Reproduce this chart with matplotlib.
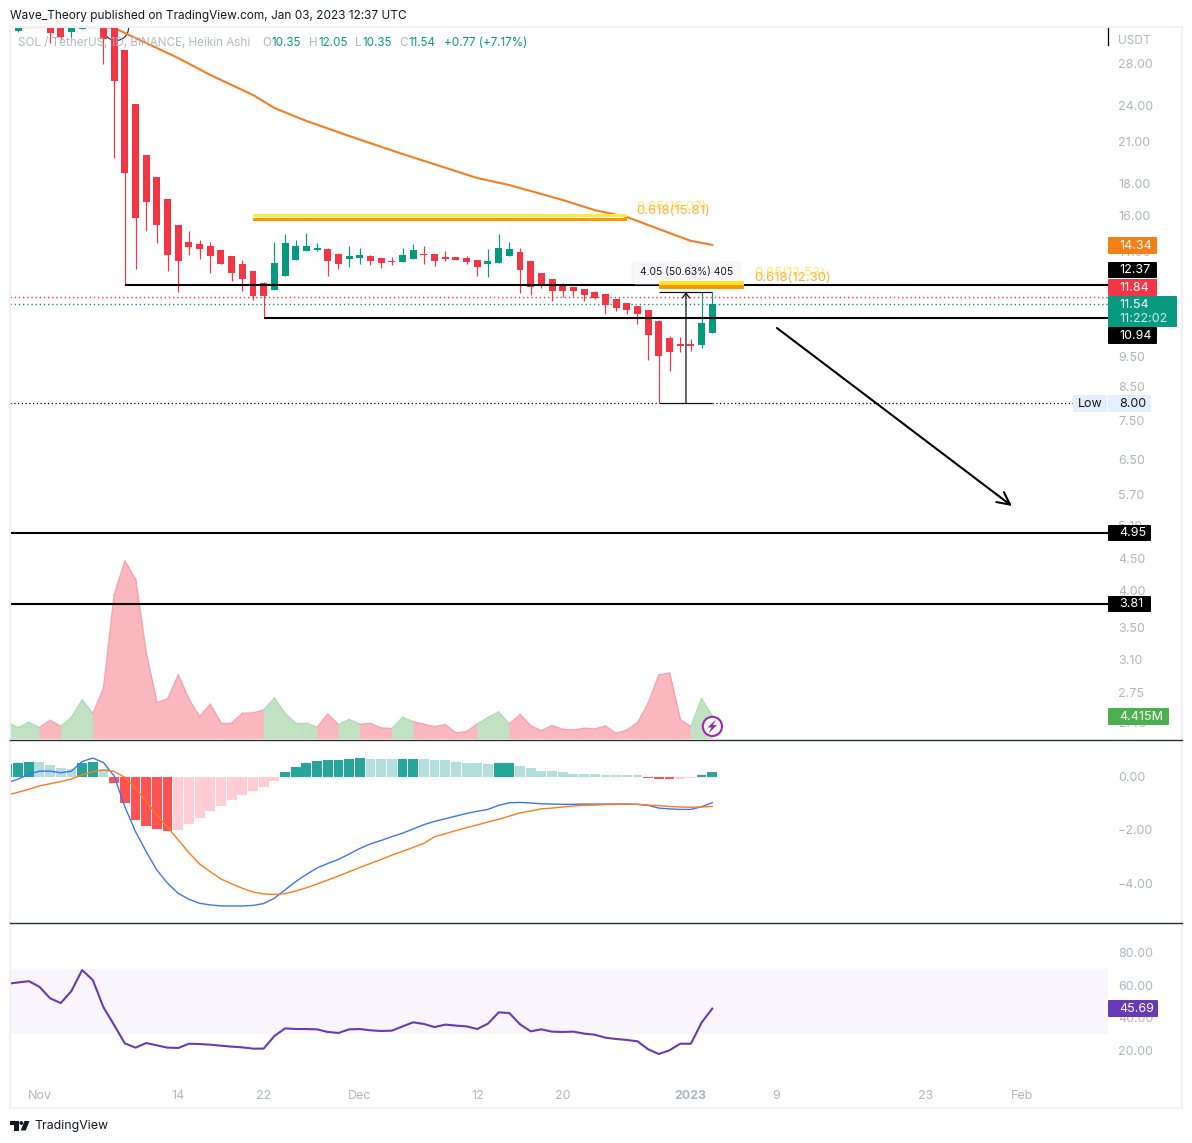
import matplotlib
matplotlib.use("Agg")
import matplotlib.pyplot as plt
from matplotlib.patches import Rectangle, FancyBboxPatch, Circle, Polygon, Arc
from matplotlib.ticker import FixedLocator, FixedFormatter, NullLocator

plt.rcParams['font.family'] = ['Inter', 'DejaVu Sans']

# ---------- data (day 0 = 1 Nov 2022) ----------
days = list(range(-3, 64))
opens = [30.77,31.57,33.5,33.6,33,34,31.45,31.8,33.5,35.5,34,29.43,24.11,19.98,18.42,16.98,15.43,14.49,14.38,14.28,14.07,13.76,13.36,13.02,12.45,
         12.14,12.78,13.56,14.02,14.07,14.12,13.87,13.61,13.66,13.76,13.66,13.51,13.46,13.61,13.87,13.87,13.71,13.71,13.66,13.56,13.36,13.41,13.76,
         13.97,13.51,12.92,12.64,12.41,12.28,12.19,12.06,11.97,11.75,11.58,11.46,11.29,10.83,10.17,9.95,9.95,9.91,10.35]
highs = [34,34,35,35,34,34.5,34,35,36,36,35,29.43,24.11,19.98,18.42,16.98,15.43,15.09,14.6,14.49,14.07,13.76,13.56,13.02,12.5,
         14.49,14.93,14.6,14.98,14.44,14.17,13.92,14.28,14.17,13.82,13.66,13.71,14.17,14.38,14.28,13.87,14.02,13.71,13.76,13.56,14.12,14.93,14.49,
         14.17,13.51,12.92,12.64,12.45,12.28,12.19,12.1,11.97,11.75,11.58,11.46,11.29,10.87,10.24,10.2,10.13,12.06,12.05]
lows = [30.77,31.45,33,33,30.2,30.5,30.77,31.8,32.5,27.95,19.75,12.37,13.12,15.09,14.44,13.02,12.06,13.82,13.61,12.92,13.36,12.54,12.1,11.71,10.97,
        12.14,12.78,13.56,14.02,14.02,12.78,13.12,13.21,13.36,13.31,13.16,13.31,13.46,13.61,13.36,13.26,13.51,13.56,13.36,12.78,12.73,13.41,13.76,
        12.01,11.93,12.23,11.67,11.84,11.88,11.67,11.75,11.09,11.25,11.09,10.71,9.38,8.0,9.0,9.66,9.69,9.8,10.35]
closes = [33,33,34,34.5,31.34,30.88,33,33,35,30.66,26.25,18.69,15.83,16.79,15.43,13.82,13.51,14.23,14.12,13.76,13.36,12.92,12.64,11.88,11.88,
          13.41,14.44,14.28,14.28,14.17,13.51,13.36,13.76,13.82,13.51,13.41,13.46,13.82,14.07,13.82,13.51,13.61,13.56,13.46,13.21,13.51,14.17,14.12,
          13.07,12.28,12.37,12.1,12.1,12.1,11.93,11.8,11.5,11.37,11.29,11.13,10.28,9.52,9.66,9.87,9.87,10.75,11.54]

ma_days = [-3,6,7,8,13,16,20,22,25,29,34,41,44,49,52,55,59,61,63]
ma_vals = [32.03,32.03,31.92,31.34,28.57,26.84,24.93,23.76,22.65,21.43,20.05,18.35,17.88,16.92,16.3,15.89,14.98,14.55,14.34]

volume = [3.2,2.07,3.13,2.07,3.53,2.33,4.13,7.6,4.93,9.93,28.6,35.4,31.73,16.93,7.07,7.8,12.6,7.73,4.27,6.73,3.0,3.0,4.93,5.0,5.6,
          8.0,4.93,3.0,3.0,2.13,4.8,2.67,3.73,2.73,2.93,2.0,1.87,4.13,3.27,2.73,2.27,2.67,1.0,1.27,2.8,4.13,5.2,2.8,
          4.67,2.47,1.47,2.47,1.73,1.6,1.93,1.8,2.4,0.93,1.6,3.07,6.93,12.6,13.0,3.73,2.27,7.87,4.415]

macd_hist = [.47,.51,.55,.55,.44,.32,.29,.51,.55,.29,-.24,-.98,-1.62,-1.84,-1.96,-2.03,-1.99,-1.77,-1.55,-1.28,-1.10,-.87,-.69,-.54,-.39,-.16,
             .17,.36,.51,.59,.62,.62,.66,.70,.66,.66,.66,.67,.67,.67,.60,.60,.56,.52,.49,.45,.49,.49,.41,.30,.22,.19,.15,.11,.11,.11,.07,.07,.04,.04,
             -.04,-.11,-.11,-.11,-.07,.04,.15]
hist_strong = [1,1,1,0,0,0,0,1,1,0,1,1,1,1,1,1,0,0,0,0,0,0,0,0,0,0,
               1,1,1,1,1,1,1,1,0,0,0,1,1,0,0,0,0,0,0,0,1,1,0,0,0,0,0,0,0,0,0,0,0,0,
               1,1,1,0,0,1,1]
macd_line = [-.23,-.1,.09,.2,.2,.14,.2,.56,.69,.52,.02,-1.13,-2.06,-2.81,-3.5,-3.99,-4.37,-4.59,-4.74,-4.8,-4.84,-4.84,-4.84,-4.82,-4.75,
             -4.55,-4.24,-3.93,-3.66,-3.42,-3.25,-3.1,-2.9,-2.69,-2.52,-2.39,-2.25,-2.12,-1.96,-1.8,-1.68,-1.58,-1.48,-1.38,-1.3,-1.23,-1.08,-.98,
             -.97,-.99,-1.02,-1.03,-1.04,-1.04,-1.03,-1.03,-1.03,-1.03,-1.03,-1.04,-1.08,-1.18,-1.21,-1.23,-1.23,-1.13,-.98]
macd_signal = [-.69,-.59,-.48,-.35,-.27,-.19,-.09,.06,.18,.24,.19,-.03,-.44,-.94,-1.44,-1.9,-2.37,-2.85,-3.27,-3.56,-3.83,-4.01,-4.18,-4.32,-4.39,
               -4.41,-4.38,-4.28,-4.16,-4.02,-3.87,-3.72,-3.56,-3.4,-3.25,-3.1,-2.94,-2.8,-2.65,-2.5,-2.25,-2.14,-2.02,-1.91,-1.81,-1.7,-1.6,-1.48,
               -1.36,-1.29,-1.21,-1.18,-1.14,-1.1,-1.08,-1.07,-1.05,-1.04,-1.04,-1.04,-1.07,-1.09,-1.12,-1.14,-1.15,-1.14,-1.12]
rsi = [60.9,61.7,62.5,59.1,52,49.1,56.5,69.3,63.2,46.5,35.6,24.4,21.8,24.6,23.2,21.8,21.6,24.2,24,23.6,23,22.4,22,21.2,21.2,
       28.9,33.6,33.2,33.2,33,31.4,30.8,33,33.2,32.4,32,32.2,34.8,37.3,36.3,34.4,35.9,35.3,34.8,33.2,36.5,43.4,43,
       36.1,31.8,33,31.6,31.4,31.6,30.4,29.7,27.9,27.1,26.5,25.7,20.8,17.9,20.2,24.2,24.2,37.1,45.69]

price_ticks = [28,24,21,18,16,14,12,9.5,8.5,7.5,6.5,5.7,5.1,4.5,4.0,3.5,3.1,2.75]
time_ticks = [0,13,21,30,41,49,61,69,83,92]
time_labels = ['Nov','14','22','Dec','12','20','2023','9','23','Feb']
macd_ticks = [0,-2,-4]
rsi_ticks = [80,60,40,20]
res_levels = [4.95, 3.81]
line_1237 = 12.37
line_1094 = 10.94
last_price = 11.54
prev_close = 11.84
low_price = 8.00
high_meas = 12.05
fib_upper = [16.07,15.89,15.81,15.65]
fib_lower = [12.53,12.38,12.37,12.20]

# ---------- layout ----------
W, H = 1192, 1143
RED, GREEN = '#F23645', '#089981'
GRAY = '#B2B5BE'
XLIM = ((10-39.4)/10.68, (1108-39.4)/10.68)
fig = plt.figure(figsize=(W/100, H/100), dpi=100, facecolor='white')

def pane(x0, y0, x1, y1, z):
    a = fig.add_axes([x0/W, 1-y1/H, (x1-x0)/W, (y1-y0)/H], zorder=z)
    a.patch.set_alpha(0)
    for s in a.spines.values():
        s.set_visible(False)
    a.set_xlim(*XLIM)
    a.set_xticks([])
    a.tick_params(axis='y', length=0, pad=7.2, labelsize=9, labelcolor=GRAY, right=False, left=False, labelright=True, labelleft=False)
    return a

ax_v = pane(10, 27, 1108, 738, 1)
ax_v.set_ylim(0, 142.2)
ax_v.set_yticks([])
ax = pane(10, 27, 1108, 738, 2)
ax.set_yscale('log')
ax.set_ylim(8*2.718281828**((403-738)/271), 8*2.718281828**((403-27)/271))
ax.yaxis.set_major_locator(FixedLocator(price_ticks))
ax.yaxis.set_major_formatter(FixedFormatter([f'{p:.2f}' for p in price_ticks]))
ax.yaxis.set_minor_locator(NullLocator())
ax.tick_params(axis='y', which='both', length=0)

ax_m = pane(10, 740, 1108, 922, 3)
ax_m.set_ylim((776.5-922)/26.75, (776.5-740)/26.75)
ax_m.set_yticks(macd_ticks)
ax_m.set_yticklabels(['0.00', '\u22122.00', '\u22124.00'])

ax_r = pane(10, 924, 1108, 1108, 4)
ax_r.set_ylim(80-(1108-952.6)/1.633, 80+(952.6-924)/1.633)
ax_r.set_yticks(rsi_ticks)
ax_r.set_yticklabels([f'{v:.2f}' for v in rsi_ticks])

ax_t = pane(10, 1086, 1108, 1087, 5)
ax_t.set_yticks([])
ax_t.set_xticks(time_ticks)
ax_t.set_xticklabels(time_labels)
ax_t.tick_params(axis='x', length=0, pad=2, labelsize=9, labelcolor=GRAY)
ax_t.get_xticklabels()[6].set_fontweight('bold')

ov = fig.add_axes([0, 0, 1, 1], zorder=10)
ov.set_xlim(0, W)
ov.set_ylim(H, 0)
ov.axis('off')
ov.patch.set_alpha(0)

# ---------- volume ----------
for i in range(1, len(days)):
    up = closes[i] >= opens[i]
    fc = '#C1E2C2' if up else '#FAB7BE'
    ax_v.fill_between(days[i-1:i+1], 0, volume[i-1:i+1], facecolor=fc, edgecolor=fc, lw=0.5, zorder=1)
for i in range(1, len(days)):
    up = closes[i] >= opens[i]
    lc = '#B2DBB4' if up else '#F7A3AF'
    ax_v.plot(days[i-1:i+1], volume[i-1:i+1], color=lc, lw=1, zorder=2)

# ---------- price pane ----------
ax.add_patch(Arc((116, 28), 25, 25, theta1=0, theta2=180, transform=ov.transData, color='#222', lw=0.8, zorder=1, clip_on=True))
ax.plot(ma_days, ma_vals, color='#F57C1F', lw=1.5, zorder=2)
for d, o, h, l, c in zip(days, opens, highs, lows, closes):
    col = GREEN if c >= o else RED
    ax.vlines(d, l, h, color=col, lw=0.85, zorder=3)
    ax.bar(d, abs(c-o), bottom=min(o, c), width=0.65, color=col, lw=0, zorder=4)

ax.hlines(line_1237, 8, XLIM[1], color='black', lw=1.5, zorder=5)
ax.hlines(line_1094, 21, XLIM[1], color='black', lw=1.5, zorder=5)
for lv in res_levels:
    ax.hlines(lv, XLIM[0], XLIM[1], color='black', lw=1.5, zorder=5)
ax.plot(XLIM, [prev_close]*2, color=RED, lw=1, ls=(0, (1, 2)), zorder=2)
ax.plot(XLIM, [last_price]*2, color=GREEN, lw=1, ls=(0, (1, 2)), zorder=2)
ax.plot([XLIM[0], 58], [low_price]*2, color='black', lw=0.9, ls=(0, (1, 2)), zorder=2)
ax.plot([63, 97.5], [low_price]*2, color='black', lw=0.9, ls=(0, (1, 2)), zorder=2)

# measure tooltip sits below the fib zone
ax.add_patch(FancyBboxPatch((634, 264), 105, 18, boxstyle='round,pad=2,rounding_size=4', fc='#F8F8FA', ec='#F2F2F5', lw=0.5,
                            transform=ov.transData, zorder=5.5, clip_on=False))

# fib zones
ax.fill_between([20, 55], fib_upper[1], fib_upper[0], color='#FFEB3B', lw=0, zorder=6)
ax.fill_between([20, 55], fib_upper[3], fib_upper[2], color='#FF9800', lw=0, zorder=6)
ax.fill_between([58, 66], fib_lower[1], fib_lower[0], color='#FFE632', lw=0, zorder=6)
ax.fill_between([58, 66], fib_lower[3], fib_lower[2], color='#FF9800', lw=0, zorder=6)

# measure tool
ax.hlines([low_price, high_meas], 58, 63, color='#111', lw=0.9, zorder=7)
ax.annotate('', xy=(60.54, high_meas), xytext=(60.54, low_price),
            arrowprops=dict(arrowstyle='->,head_length=0.35,head_width=0.25', color='#111', lw=0.9, shrinkA=0, shrinkB=0), zorder=7)
# big arrow
ax.annotate('', xy=(91.06, 5.47), xytext=(69.06, 10.55),
            arrowprops=dict(arrowstyle='->,head_length=0.9,head_width=0.45', color='black', lw=1.5, shrinkA=0, shrinkB=0), zorder=7)

# ---------- MACD ----------
for d, v, s in zip(days, macd_hist, hist_strong):
    if v >= 0:
        col = '#26A69A' if s else '#B2DFDB'
    else:
        col = '#FF5252' if s else '#FFCDD2'
    ax_m.bar(d, v, width=0.92, color=col, lw=0, zorder=1)
ax_m.plot(days, macd_line, color='#3F72F5', lw=1, zorder=2)
ax_m.plot(days, macd_signal, color='#FF7A1A', lw=1, zorder=3)

# ---------- RSI ----------
ax_r.fill_between(XLIM, 30, 70, color='#F8F6FC', lw=0, zorder=1)
ax_r.plot(days, rsi, color='#673AB7', lw=1.5, zorder=2)

# ---------- overlay: frame, badges, texts ----------
ov.add_patch(Rectangle((10, 27), 1172, 1081, fill=False, ec='#F0F0F6', lw=1.5))
ov.plot([10, 1182], [739.5, 739.5], color='#2A2E39', lw=1)
ov.plot([10, 1182], [923, 923], color='#2A2E39', lw=1)
ov.plot([1108.3, 1108.3], [28, 45], color='black', lw=0.9)

ov.text(1119, 724, '2.40', color=GRAY, fontsize=9, va='center', zorder=1)

def badge(x0, y0, x1, y1, col, txt, tc='white'):
    ov.add_patch(FancyBboxPatch((x0+1, y0+1), x1-x0-2, y1-y0-2, boxstyle='round,pad=1,rounding_size=1', fc=col, ec='none', zorder=4))
    ov.text(1119, (y0+y1)/2+0.2, txt, color=tc, fontsize=9, ha='left', va='center', zorder=5)

badge(1108, 237, 1157, 254, '#F57F17', '14.34')
badge(1108, 262, 1157, 278, '#000000', '12.37')
badge(1108, 279, 1157, 296, RED, '11.84')
ov.add_patch(FancyBboxPatch((1109, 297), 67, 29, boxstyle='round,pad=1,rounding_size=1', fc=GREEN, ec='none', zorder=4))
ov.text(1119, 305, '11.54', color='white', fontsize=9, va='center', zorder=5)
ov.text(1119, 319, '11:22:02', color='#CFEDE7', fontsize=9, va='center', zorder=5)
badge(1108, 327, 1157, 344, '#000000', '10.94')
badge(1108, 525, 1151, 541, '#000000', '4.95')
badge(1108, 596, 1151, 612, '#000000', '3.81')
badge(1108, 708, 1169, 725, '#4CAF50', '4.415M')
badge(1108, 1000, 1158, 1017, '#673AB7', '45.69')
badge(1108, 395, 1151, 412, '#E3EFFD', '8.00', '#131722')
ov.add_patch(FancyBboxPatch((1074, 396), 32, 15, boxstyle='round,pad=1,rounding_size=1', fc='#E3EFFD', ec='none', zorder=4))
ov.text(1078, 403.7, 'Low', color='#131722', fontsize=9, va='center', zorder=5)
ov.text(1118, 40.5, 'USDT', color=GRAY, fontsize=8.6, va='center')

ov.text(10, 15.5, 'Wave_Theory published on TradingView.com, Jan 03, 2023 12:37 UTC', color='#131722', fontsize=8.5, va='center')
ov.text(18, 43, 'SOL / TetherUS, 1D, BINANCE, Heikin Ashi', color=GRAY, fontsize=8.4, va='center', alpha=0.95)
for xp, s, c in [(262, 'O', GRAY), (271, '10.35', GREEN), (309, 'H', GRAY), (318, '12.05', GREEN), (355, 'L', GRAY),
                 (362, '10.35', GREEN), (399, 'C', GRAY), (408, '11.54', GREEN), (444, '+0.77 (+7.17%)', GREEN)]:
    ov.text(xp, 43, s, color=c, fontsize=8.4, va='center')

YEL, ORG = '#FFE96A', '#FFB347'
ov.text(636, 206.5, '0.65(16.07)', color=YEL, fontsize=9.5, va='center')
ov.text(636, 211, '0.618(15.81)', color=ORG, fontsize=9.5, va='center')
ov.text(754, 273, '0.65(12.53)', color=YEL, fontsize=9.5, va='center')
ov.text(754, 278, '0.618(12.30)', color=ORG, fontsize=9.5, va='center')

ov.text(686.5, 272.5, '4.05 (50.63%) 405', color='#131722', fontsize=7.4, ha='center', va='center', zorder=4)

# streaks icon
ov.add_patch(Circle((712.4, 726.4), 9.6, fc='white', ec='#9C27B0', lw=1.5, zorder=4))
ov.add_patch(Polygon([(716, 719.5), (707.5, 727.5), (711.5, 727.5), (708.5, 733.5), (717, 725), (713, 725)], fc='#9C27B0', ec='none', zorder=5))

# logo
ov.add_patch(Polygon([(10, 1121), (18.5, 1121), (18.5, 1130.5), (14, 1130.5), (14, 1125), (10, 1125)], fc='#131722', ec='none'))
ov.add_patch(Circle((21.3, 1123), 1.9, fc='#131722', ec='none'))
ov.add_patch(Polygon([(24.5, 1121), (29.5, 1121), (25.7, 1130.5), (20.7, 1130.5)], fc='#131722', ec='none'))
ov.text(34, 1126.5, 'TradingView', color='#131722', fontsize=8.9, va='center')

fig.savefig('out.png', dpi=100)
